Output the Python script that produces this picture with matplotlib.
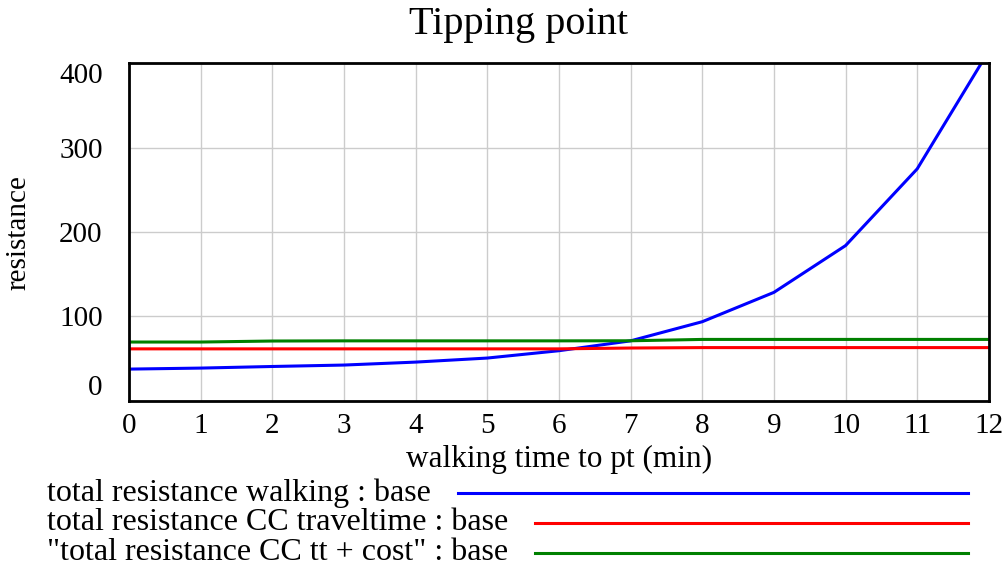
import matplotlib
matplotlib.use("Agg")
import matplotlib.pyplot as plt
from matplotlib.lines import Line2D

# walking time to pt (min)
minutes = [0, 1, 2, 3, 4, 5, 6, 7, 8, 9, 10, 11, 12]
walking = [37.5, 38.7, 40.6, 42.3, 45.8, 50.6, 59.3, 71.0, 93.7, 128.5, 184.0, 275.0, 415.0]
cc_traveltime = [61.5, 61.5, 61.5, 61.5, 61.5, 61.5, 61.5, 62.5, 63.0, 63.0, 63.0, 63.0, 63.0]
cc_tt_cost = [69.6, 69.6, 70.8, 71.0, 71.0, 71.0, 71.0, 71.1, 72.7, 72.7, 72.7, 72.7, 72.7]

series = [
    ("total resistance walking : base", walking, "#0000ff"),
    ("total resistance CC traveltime : base", cc_traveltime, "#ff0000"),
    ('"total resistance CC tt + cost" : base', cc_tt_cost, "#008000"),
]
y_ticks = [0, 100, 200, 300, 400]

plt.rcParams["font.family"] = ["Liberation Serif", "DejaVu Serif"]

fig = plt.figure(figsize=(10.08, 5.70), dpi=100)
ax = fig.add_axes([0.128, 0.297, 0.853, 0.5916])

for label, vals, color in series:
    ax.plot(minutes, vals, color=color, lw=2.2, clip_on=True, solid_capstyle="butt")

ax.set_xlim(0, 12)
ax.set_ylim(0, 400)
ax.set_xticks(minutes)
ax.set_yticks(y_ticks)
ax.grid(True, color="#cccccc", lw=1.0)
ax.set_axisbelow(True)
for s in ax.spines.values():
    s.set_linewidth(2.0)
    s.set_color("black")
    s.set_zorder(5)
ax.tick_params(length=0, labelsize=21)
ax.tick_params(axis="x", pad=9)
ax.tick_params(axis="y", pad=19)
ylabels = ax.get_yticklabels()
ylabels[0].set_verticalalignment("bottom")
ylabels[-1].set_verticalalignment("top")

ax.set_xlabel("walking time to pt (min)", fontsize=22.5, labelpad=4)
ax.set_ylabel("resistance", fontsize=21, labelpad=20)
fig.text(0.5145, 0.957, "Tipping point", fontsize=29, ha="center", va="center")

# legend below the plot: text on the left, a line running to the right
fig.canvas.draw()
renderer = fig.canvas.get_renderer()
W, H = fig.bbox.width, fig.bbox.height
legend_y = [493, 523, 553]
for (label, vals, color), yy in zip(series, legend_y):
    t = fig.text(47 / W, 1 - yy / H, label, fontsize=23, ha="left", va="center")
    bb = t.get_window_extent(renderer)
    x0 = (bb.x1 + 27) / W
    fig.add_artist(Line2D([x0, 968 / W], [1 - yy / H] * 2, color=color, lw=2.2,
                          transform=fig.transFigure))

fig.savefig("out.png", dpi=100, facecolor="white")
